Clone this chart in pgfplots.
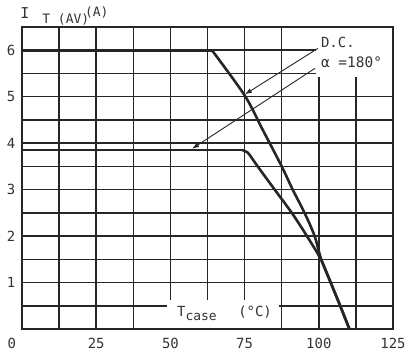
\documentclass[border=0pt]{standalone}
\usepackage{pgfplots}
\pgfplotsset{compat=1.18}
\usepackage{fontspec}
\setmainfont{DejaVu Sans Mono}
\usetikzlibrary{arrows.meta}
\definecolor{ink}{HTML}{262626}
\definecolor{txt}{HTML}{333333}
\begin{document}
\fontsize{14}{16}\selectfont
\begin{tikzpicture}
\useasboundingbox (0,0) rectangle (410bp,355bp);
\begin{axis}[
 at={(22bp,26bp)}, anchor=south west,
 scale only axis, width=371bp, height=302bp,
 xmin=0,xmax=125,ymin=0,ymax=6.5,
 xtick={0,25,50,75,100,125},
 xticklabels={\makebox[0pt][r]{0\hspace{6bp}},25,50,75,100,125},
 minor xtick={12.5,37.5,62.5,87.5,112.5},
 ytick={1,2,3,4,5,6},
 minor ytick={0.5,1.5,...,6},
 grid=both,
 major grid style={ink, line width=1.5bp},
 minor grid style={ink, line width=1.5bp},
 major tick length=0, minor tick length=0,
 axis line style={ink, line width=2.2bp},
 tick label style={font=\fontsize{14}{16}\selectfont, text=txt},
 xticklabel style={yshift=-4bp},
 yticklabel style={xshift=-2bp},
 /pgf/number format/assume math mode=true,
 clip=false,
]
\fill[white] (axis cs:99,5.42) rectangle (axis cs:125,6.5);
\fill[white] (axis cs:48.8,0) rectangle (axis cs:86.6,0.63);
\draw[ink, line width=2.2bp] (rel axis cs:0,0) rectangle (rel axis cs:1,1);
\addplot[ink, line width=2.6bp] coordinates {(0,6)(64,6)};
\addplot[ink, line width=2.6bp, smooth, tension=0.5] coordinates {(64,6)(75,5.03)(81,4.3)(87.5,3.5)(91.2,3.0)(95.2,2.5)(98.6,2.0)(100.8,1.5)(104,1.0)(107.2,0.5)(110.3,0)};
\addplot[ink, line width=2.6bp] coordinates {(0,3.85)(74,3.85)};
\addplot[ink, line width=2.6bp, smooth, tension=0.5] coordinates {(74,3.85)(76,3.8)(79.4,3.5)(84.9,3.02)(90.9,2.5)(96,2.0)(100.7,1.5)(104,1.0)(107.2,0.5)(110.3,0)};
\addplot[ink, line width=0.9bp, -{Latex[length=7bp,width=5bp]}] coordinates {(99.7,6.04)(75.1,5.05)};
\addplot[ink, line width=0.9bp, -{Latex[length=7bp,width=5bp]}] coordinates {(98.7,5.61)(57.3,3.88)};
\node[anchor=west, inner sep=0, text=txt] at (axis cs:100.7,6.17) {D.C.};
\node[anchor=west, inner sep=0, text=txt] at (axis cs:100.7,5.74) {\fontsize{14.5}{16}\selectfont α =180°};
\node[anchor=west, inner sep=0, text=txt] at (axis cs:52.2,0.34) {T\raisebox{-4bp}{\fontsize{13}{15}\selectfont case}};
\node[anchor=west, inner sep=0, text=txt] at (axis cs:72.8,0.36) {(°C)};
\node[inner sep=0, text=txt] at (axis cs:1.0,6.8) {\fontsize{15}{17}\selectfont I};
\node[anchor=west, inner sep=0, text=txt] at (axis cs:6.8,6.67) {\fontsize{13}{15}\selectfont T (AV)};
\node[anchor=west, inner sep=0, text=txt] at (axis cs:21.2,6.81) {\fontsize{13}{15}\selectfont (A)};
\end{axis}
\end{tikzpicture}
\end{document}
